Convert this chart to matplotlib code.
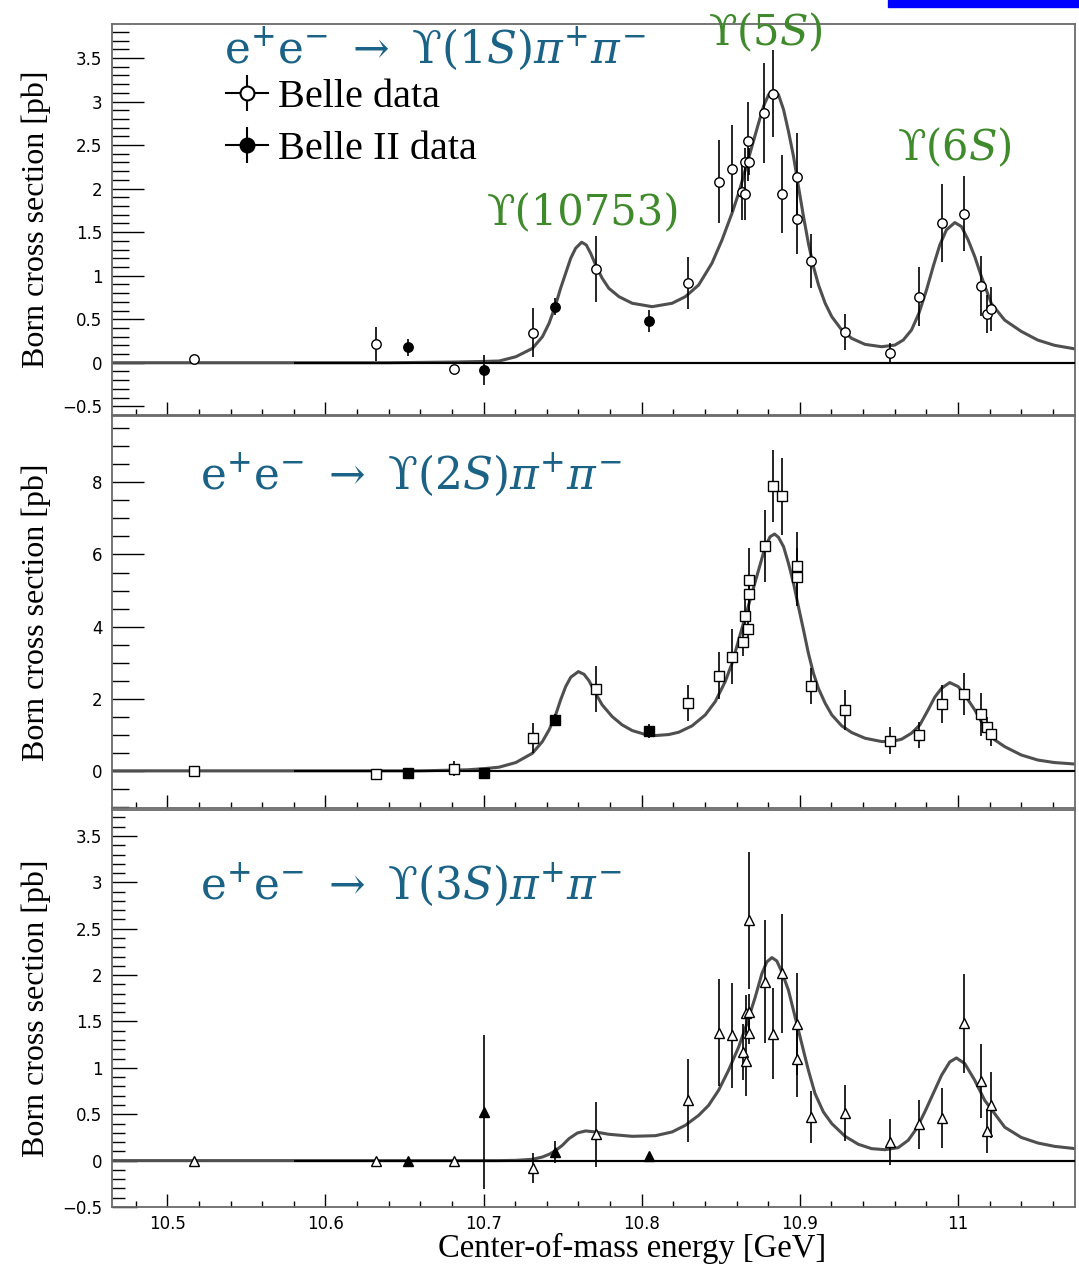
import numpy as np
import matplotlib
matplotlib.use("Agg")
import matplotlib.pyplot as plt
from matplotlib.ticker import MultipleLocator, FuncFormatter
from matplotlib.lines import Line2D
from matplotlib.legend_handler import HandlerTuple
from matplotlib.patches import Rectangle

plt.rcParams["mathtext.fontset"] = "dejavuserif"

# -----------------------------
# data
# -----------------------------
# fit curves, (energy [GeV], cross section [pb]) pairs
fit1 = [(10.465, 0), (10.58, 0), (10.64, 0), (10.68, 0.008), (10.70, 0.015), (10.7098, 0.02),
        (10.7204, 0.069), (10.7309, 0.165), (10.7372, 0.299), (10.7414, 0.453), (10.7452, 0.644),
        (10.7487, 0.855), (10.7519, 1.028), (10.7551, 1.200), (10.7582, 1.315), (10.762, 1.384),
        (10.7649, 1.353), (10.7677, 1.257), (10.7713, 1.104), (10.775, 0.970), (10.7792, 0.855),
        (10.7856, 0.759), (10.794, 0.683), (10.8066, 0.644), (10.8192, 0.683), (10.8276, 0.759),
        (10.836, 0.893), (10.8444, 1.143), (10.8508, 1.411), (10.8571, 1.718), (10.8613, 1.947),
        (10.8655, 2.216), (10.8697, 2.484), (10.8739, 2.752), (10.877, 2.944), (10.8802, 3.078),
        (10.8834, 3.128), (10.8865, 3.078), (10.8897, 2.906), (10.8928, 2.657), (10.896, 2.369),
        (10.8991, 2.024), (10.9023, 1.679), (10.9054, 1.372), (10.9086, 1.104), (10.9118, 0.893),
        (10.916, 0.683), (10.9202, 0.529), (10.9265, 0.376), (10.9328, 0.280), (10.9412, 0.211),
        (10.9517, 0.184), (10.9601, 0.203), (10.9654, 0.261), (10.9706, 0.376), (10.9753, 0.568),
        (10.9801, 0.836), (10.9843, 1.104), (10.9885, 1.353), (10.9927, 1.526), (10.998, 1.610),
        (11.0022, 1.564), (11.0064, 1.411), (11.0106, 1.219), (11.0148, 0.99), (11.0211, 0.68),
        (11.0295, 0.49), (11.04, 0.36), (11.0505, 0.26), (11.0611, 0.20), (11.0737, 0.16)]
fit2 = [(10.465, 0), (10.58, 0), (10.66, 0), (10.69, 0.03), (10.70, 0.06), (10.7098, 0.102),
        (10.7204, 0.231), (10.7309, 0.489), (10.7372, 0.813), (10.7414, 1.136), (10.7452, 1.506),
        (10.7487, 1.967), (10.7519, 2.337), (10.7551, 2.595), (10.7599, 2.752), (10.7635, 2.678),
        (10.7666, 2.503), (10.7708, 2.152), (10.775, 1.828), (10.7813, 1.506), (10.7876, 1.275),
        (10.794, 1.117), (10.8024, 1.007), (10.8087, 0.979), (10.8171, 1.007), (10.8234, 1.071),
        (10.8318, 1.247), (10.8402, 1.552), (10.8465, 1.921), (10.8528, 2.475), (10.8571, 2.983),
        (10.8613, 3.630), (10.8655, 4.276), (10.8697, 4.923), (10.8739, 5.569), (10.8781, 6.216),
        (10.8812, 6.493), (10.884, 6.567), (10.8865, 6.475), (10.8897, 6.216), (10.8928, 5.754),
        (10.896, 5.200), (10.8991, 4.553), (10.9023, 3.907), (10.9054, 3.260), (10.9086, 2.706),
        (10.9117, 2.291), (10.916, 1.875), (10.9202, 1.552), (10.9265, 1.247), (10.9328, 1.062),
        (10.9412, 0.905), (10.9517, 0.813), (10.958, 0.813), (10.9643, 0.877), (10.9706, 1.044),
        (10.9759, 1.275), (10.9811, 1.690), (10.9853, 2.041), (10.9896, 2.291), (10.9948, 2.448),
        (11.0001, 2.337), (11.0043, 2.106), (11.0106, 1.690), (11.0169, 1.20), (11.0232, 0.86),
        (11.0296, 0.67), (11.04, 0.44), (11.0505, 0.30), (11.061, 0.23), (11.0737, 0.19)]
fit3 = [(10.465, 0), (10.58, 0), (10.70, 0), (10.7098, 0), (10.7204, 0.003), (10.7309, 0.014),
        (10.7372, 0.039), (10.7414, 0.068), (10.7452, 0.104), (10.7498, 0.165), (10.754, 0.237),
        (10.7593, 0.298), (10.7645, 0.320), (10.7708, 0.309), (10.7792, 0.284), (10.794, 0.262),
        (10.8087, 0.269), (10.8192, 0.309), (10.8276, 0.381), (10.836, 0.488), (10.8423, 0.596),
        (10.8486, 0.758), (10.8549, 0.974), (10.8613, 1.225), (10.8665, 1.477), (10.8718, 1.764),
        (10.876, 2.016), (10.8791, 2.142), (10.8823, 2.189), (10.8854, 2.153), (10.8886, 2.034),
        (10.8928, 1.836), (10.897, 1.549), (10.9012, 1.261), (10.9054, 0.974), (10.9096, 0.722),
        (10.9149, 0.524), (10.9202, 0.399), (10.9286, 0.262), (10.937, 0.176), (10.9454, 0.129),
        (10.9538, 0.118), (10.9622, 0.140), (10.9685, 0.219), (10.9738, 0.345), (10.979, 0.524),
        (10.9843, 0.722), (10.9896, 0.920), (10.9948, 1.064), (10.999, 1.107), (11.0043, 1.046),
        (11.0106, 0.866), (11.0169, 0.650), (11.0232, 0.506), (11.0296, 0.36), (11.04, 0.25),
        (11.0505, 0.19), (11.061, 0.154), (11.0737, 0.13)]

# Y(1S) pi pi data
belle1_e = [10.517, 10.632, 10.681, 10.731, 10.771, 10.8295, 10.849, 10.857, 10.8634, 10.8655, 10.8655,
            10.868, 10.8671, 10.8775, 10.8827, 10.8888, 10.8983, 10.8983, 10.9071, 10.9286, 10.9572,
            10.9753, 10.9902, 11.0039, 11.0146, 11.0182, 11.0207]
belle1_s = [0.046, 0.215, -0.076, 0.345, 1.081, 0.913, 2.081, 2.227, 1.959, 1.94, 2.311,
            2.311, 2.541, 2.868, 3.09, 1.936, 2.135, 1.652, 1.173, 0.353, 0.108,
            0.759, 1.603, 1.71, 0.882, 0.563, 0.62]
belle1_err = [0.02, 0.20, 0.03, 0.28, 0.38, 0.30, 0.48, 0.50, 0.32, 0.30, 0.15,
              0.15, 0.45, 0.57, 0.50, 0.45, 0.50, 0.40, 0.31, 0.21, 0.12,
              0.34, 0.45, 0.43, 0.34, 0.22, 0.25]
b2_1_e = [10.6525, 10.7005, 10.7452, 10.8049]
b2_1_s = [0.177, -0.084, 0.644, 0.479]
b2_1_err = [0.10, 0.17, 0.10, 0.13]

# Y(2S) pi pi data
belle2_e = [10.517, 10.632, 10.681, 10.731, 10.771, 10.8295, 10.849, 10.857, 10.864, 10.8655, 10.8674,
            10.8676, 10.868, 10.8777, 10.8827, 10.8888, 10.8983, 10.8983, 10.9071, 10.9286, 10.9572,
            10.9753, 10.9902, 11.0037, 11.0146, 11.0182, 11.0207]
belle2_s = [0.0, -0.09, 0.065, 0.906, 2.28, 1.88, 2.64, 3.16, 3.58, 4.30, 3.93,
            4.90, 5.28, 6.24, 7.91, 7.61, 5.67, 5.37, 2.36, 1.69, 0.84,
            0.99, 1.86, 2.14, 1.57, 1.21, 1.01]
belle2_err = [0.05, 0.06, 0.20, 0.42, 0.64, 0.50, 0.66, 0.76, 0.40, 0.50, 0.50,
              0.50, 0.90, 1.00, 1.00, 1.06, 0.95, 0.80, 0.50, 0.55, 0.37,
              0.37, 0.52, 0.58, 0.60, 0.28, 0.32]
b2_2_e = [10.6525, 10.7005, 10.7452, 10.8049]
b2_2_s = [-0.065, -0.065, 1.41, 1.11]
b2_2_err = [0.05, 0.05, 0.18, 0.20]

# Y(3S) pi pi data
belle3_e = [10.517, 10.632, 10.681, 10.731, 10.771, 10.8295, 10.849, 10.857, 10.864, 10.8657, 10.8657,
            10.8676, 10.8676, 10.868, 10.8777, 10.8827, 10.8888, 10.8983, 10.8983, 10.9071, 10.9286,
            10.9572, 10.9753, 10.9902, 11.0037, 11.0146, 11.0182, 11.0207]
belle3_s = [0.0, 0.0, 0.0, -0.08, 0.284, 0.65, 1.38, 1.35, 1.17, 1.07, 1.59,
            1.60, 1.38, 2.59, 1.93, 1.37, 2.02, 1.47, 1.10, 0.47, 0.51,
            0.20, 0.39, 0.46, 1.48, 0.855, 0.32, 0.60]
belle3_err = [0.02, 0.03, 0.03, 0.16, 0.35, 0.45, 0.58, 0.57, 0.30, 0.37, 0.20,
              0.20, 0.12, 0.74, 0.66, 0.49, 0.64, 0.55, 0.41, 0.28, 0.30,
              0.25, 0.26, 0.32, 0.53, 0.40, 0.24, 0.36]
b2_3_e = [10.6525, 10.7005, 10.7452, 10.8049]
b2_3_s = [0.0, 0.52, 0.093, 0.054]
b2_3_err = [0.03, 0.83, 0.12, 0.03]

UPS = "\u03d2"
channels = ["1", "2", "3"]
resonances = [UPS + "(10753)", UPS + "(5S)", UPS + "(6S)"]
res_pos = [(10.7634, 1.58), (10.878, 3.65), (10.998, 2.33)]

XMIN, XMAX = 10.465, 11.074
ZERO_FROM = 10.58
BLUE = "#1b6386"
GREEN = "#3f8a2b"
FIT = "#4f4f4f"


def tick_fmt(v, pos):
    return ("%g" % (round(v, 3) + 0.0)).replace("-", "\u2212")


def draw_panel(ax, fit, b_e, b_s, b_err, b2_e, b2_s, b2_err, marker, ms):
    fe, fs = zip(*fit)
    ax.plot(fe, fs, color=FIT, lw=2.2, zorder=2, solid_joinstyle="round")
    ax.axhline(0, color="k", lw=1.5, zorder=1)
    ax.hlines(0, ZERO_FROM, XMAX, color="k", lw=1.5, zorder=3)
    ax.errorbar(b_e, b_s, yerr=b_err, fmt=marker, ms=ms, mfc="white", mec="k", mew=1.0,
                ecolor="k", elinewidth=1.2, capsize=0, zorder=4)
    ax.errorbar(b2_e, b2_s, yerr=b2_err, fmt=marker, ms=ms, mfc="k", mec="k", mew=1.0,
                ecolor="k", elinewidth=1.2, capsize=0, zorder=4)
    ax.set_xlim(XMIN, XMAX)
    for s in ax.spines.values():
        s.set_color("#6a6a6a")
        s.set_linewidth(1.3)
    ax.tick_params(which="both", direction="in", top=False, right=False, colors="k")
    ax.xaxis.set_major_locator(MultipleLocator(0.1))
    ax.xaxis.set_minor_locator(MultipleLocator(0.02))
    ax.tick_params(axis="x", which="major", length=9.5, width=1.0, pad=6, labelsize=12)
    ax.tick_params(axis="x", which="minor", length=4.5, width=1.0)
    ax.tick_params(axis="y", labelsize=12, pad=7)
    ax.yaxis.set_major_formatter(FuncFormatter(tick_fmt))
    ax.xaxis.set_major_formatter(FuncFormatter(tick_fmt))
    ax.set_ylabel("Born cross section [pb]", family="Liberation Serif", fontsize=23)
    ax.yaxis.set_label_coords(-0.063, 0.5)


fig = plt.figure(figsize=(10.79, 12.66), dpi=100)
W, H = 1079.0, 1266.0
ax1 = fig.add_axes([112 / W, 1 - 415 / H, 963 / W, 391 / H])
ax2 = fig.add_axes([112 / W, 1 - 808 / H, 963 / W, 392 / H])
ax3 = fig.add_axes([112 / W, 1 - 1207 / H, 963 / W, 397 / H])

# top panel
draw_panel(ax1, fit1, belle1_e, belle1_s, belle1_err, b2_1_e, b2_1_s, b2_1_err, "o", 6.8)
ax1.set_ylim(-0.6, 3.89)
ax1.yaxis.set_major_locator(MultipleLocator(0.5))
ax1.yaxis.set_minor_locator(MultipleLocator(0.1))
ax1.tick_params(axis="y", which="major", length=23, width=1.0)
ax1.tick_params(axis="y", which="minor", length=12, width=1.0)
ax1.tick_params(axis="x", labelbottom=False)

# middle panel
draw_panel(ax2, fit2, belle2_e, belle2_s, belle2_err, b2_2_e, b2_2_s, b2_2_err, "s", 6.8)
ax2.set_ylim(-1.03, 9.84)
ax2.yaxis.set_major_locator(MultipleLocator(2))
ax2.yaxis.set_minor_locator(MultipleLocator(0.5))
ax2.tick_params(axis="y", which="major", length=23, width=1.0)
ax2.tick_params(axis="y", which="minor", length=12, width=1.0)
ax2.tick_params(axis="x", labelbottom=False)

# bottom panel
draw_panel(ax3, fit3, belle3_e, belle3_s, belle3_err, b2_3_e, b2_3_s, b2_3_err, "^", 7.2)
ax3.set_ylim(-0.5, 3.78)
ax3.yaxis.set_major_locator(MultipleLocator(0.5))
ax3.yaxis.set_minor_locator(MultipleLocator(0.1))
ax3.tick_params(axis="y", which="major", length=18, width=1.0)
ax3.tick_params(axis="y", which="minor", length=9, width=1.0)
ax3.set_xlabel("Center-of-mass energy [GeV]", family="Liberation Serif", fontsize=23.5)
ax3.xaxis.set_label_coords(0.54, -0.065)

# process labels
proc_pos = [(ax1, 10.5357, 3.446), (ax2, 10.5204, 7.83), (ax3, 10.5204, 2.825)]
for ch, (ax, x, y) in zip(channels, proc_pos):
    txt = r"$\mathrm{e^{+}e^{-}}\ \rightarrow\ \mathrm{" + UPS + r"}(" + ch + r"S)\pi^{+}\pi^{-}$"
    ax.text(x, y, txt, color=BLUE, fontsize=31.5, ha="left", va="baseline", zorder=5)

for name, (x, y) in zip(resonances, res_pos):
    lab = name.replace("S)", r"$S$)")
    ax1.text(x, y, lab, color=GREEN, fontsize=30, family="DejaVu Serif",
             ha="center", va="baseline", clip_on=False, zorder=5)

# legend
h_open = (Line2D([], [], color="k", lw=1.5),
          Line2D([], [], marker="|", ms=26, mew=1.5, ls="none", color="k"),
          Line2D([], [], marker="o", ms=10, mfc="white", mec="k", mew=1.5, ls="none"))
h_full = (Line2D([], [], color="k", lw=1.5),
          Line2D([], [], marker="|", ms=26, mew=1.5, ls="none", color="k"),
          Line2D([], [], marker="o", ms=10, mfc="k", mec="k", mew=1.5, ls="none"))
fig.legend([h_open, h_full], ["Belle data", "Belle II data"],
           handler_map={tuple: HandlerTuple(ndivide=1, pad=0)},
           loc="center left", bbox_to_anchor=(225.5 / W, 1 - 123.5 / H),
           frameon=False, borderpad=0, borderaxespad=0, handlelength=1.05,
           handletextpad=0.25, labelspacing=0.36,
           prop={"family": "Liberation Serif", "size": 29})

fig.patches.append(Rectangle((888 / W, 1 - 6.5 / H), 1 - 888 / W, 6.5 / H,
                             transform=fig.transFigure, color="#0000ff", zorder=10))

fig.savefig("out.png", dpi=100)
